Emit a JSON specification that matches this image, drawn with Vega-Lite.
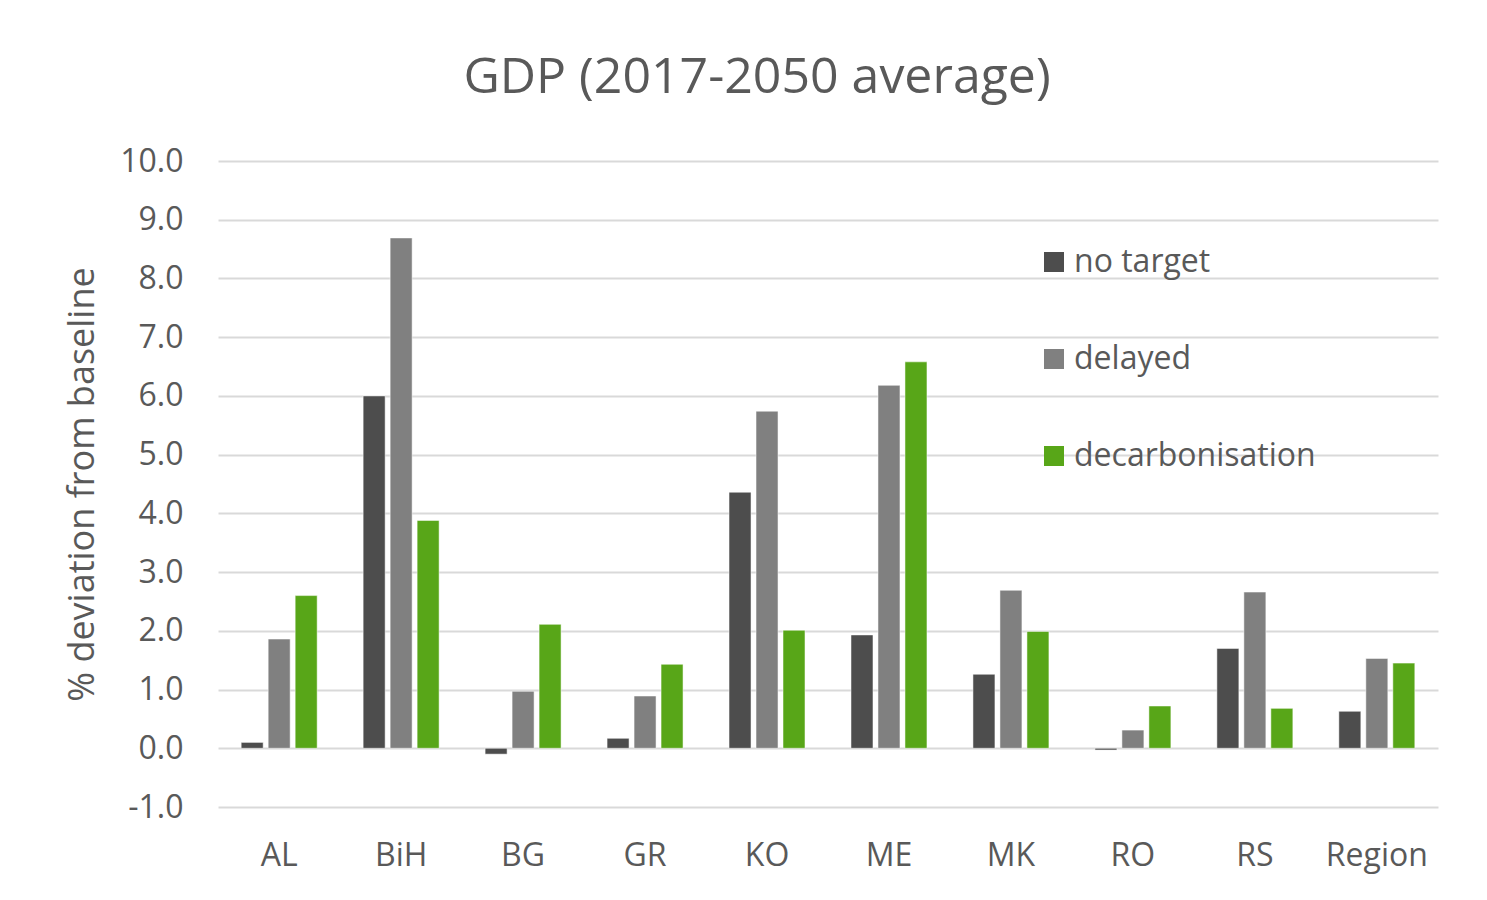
{
  "$schema": "https://vega.github.io/schema/vega-lite/v6.json",
  "width": 1220,
  "height": 646,
  "autosize": {"type": "none"},
  "padding": {"left": 218, "top": 161, "right": 49, "bottom": 93},
  "background": "white",
  "title": {
    "text": "GDP (2017-2050 average)",
    "font": "Open Sans",
    "fontSize": 50,
    "fontWeight": "normal",
    "color": "#595959",
    "anchor": "middle",
    "dx": -71,
    "offset": 42
  },
  "config": {
    "view": {"stroke": null},
    "font": "Open Sans"
  },
  "data": {
    "values": [
      {"region": "AL", "scenario": "no target", "value": 0.1},
      {"region": "AL", "scenario": "delayed", "value": 1.86},
      {"region": "AL", "scenario": "decarbonisation", "value": 2.6},
      {"region": "BiH", "scenario": "no target", "value": 6.0},
      {"region": "BiH", "scenario": "delayed", "value": 8.69},
      {"region": "BiH", "scenario": "decarbonisation", "value": 3.88},
      {"region": "BG", "scenario": "no target", "value": -0.1},
      {"region": "BG", "scenario": "delayed", "value": 0.97},
      {"region": "BG", "scenario": "decarbonisation", "value": 2.11},
      {"region": "GR", "scenario": "no target", "value": 0.17},
      {"region": "GR", "scenario": "delayed", "value": 0.89},
      {"region": "GR", "scenario": "decarbonisation", "value": 1.43},
      {"region": "KO", "scenario": "no target", "value": 4.36},
      {"region": "KO", "scenario": "delayed", "value": 5.74},
      {"region": "KO", "scenario": "decarbonisation", "value": 2.01},
      {"region": "ME", "scenario": "no target", "value": 1.93},
      {"region": "ME", "scenario": "delayed", "value": 6.18},
      {"region": "ME", "scenario": "decarbonisation", "value": 6.58},
      {"region": "MK", "scenario": "no target", "value": 1.26},
      {"region": "MK", "scenario": "delayed", "value": 2.69},
      {"region": "MK", "scenario": "decarbonisation", "value": 1.99},
      {"region": "RO", "scenario": "no target", "value": -0.03},
      {"region": "RO", "scenario": "delayed", "value": 0.31},
      {"region": "RO", "scenario": "decarbonisation", "value": 0.72},
      {"region": "RS", "scenario": "no target", "value": 1.7},
      {"region": "RS", "scenario": "delayed", "value": 2.66},
      {"region": "RS", "scenario": "decarbonisation", "value": 0.68},
      {"region": "Region", "scenario": "no target", "value": 0.63},
      {"region": "Region", "scenario": "delayed", "value": 1.53},
      {"region": "Region", "scenario": "decarbonisation", "value": 1.45}
    ]
  },
  "mark": {"type": "bar", "stroke": "white", "strokeWidth": 1, "strokeOpacity": 0.5},
  "encoding": {
    "x": {
      "field": "region",
      "type": "nominal",
      "sort": ["AL", "BiH", "BG", "GR", "KO", "ME", "MK", "RO", "RS", "Region"],
      "scale": {"paddingInner": 0.377, "paddingOuter": 0.19},
      "axis": {
        "title": null,
        "labelAngle": 0,
        "labelFont": "Open Sans",
        "labelFontSize": 32,
        "labelColor": "#595959",
        "labelPadding": 33,
        "ticks": false,
        "domain": false,
        "grid": false
      }
    },
    "xOffset": {
      "field": "scenario",
      "type": "nominal",
      "sort": ["no target", "delayed", "decarbonisation"],
      "scale": {"paddingInner": 0.185, "paddingOuter": 0}
    },
    "y": {
      "field": "value",
      "type": "quantitative",
      "scale": {"domain": [-1, 10], "nice": false, "zero": false},
      "axis": {
        "title": "% deviation from baseline",
        "titleFont": "Open Sans",
        "titleFontSize": 36,
        "titleFontWeight": "normal",
        "titleColor": "#595959",
        "titlePadding": 18,
        "values": [-1, 0, 1, 2, 3, 4, 5, 6, 7, 8, 9, 10],
        "labelExpr": "datum.value < 0 ? '-' + format(-datum.value, '.1f') : format(datum.value, '.1f')",
        "labelFont": "Open Sans",
        "labelFontSize": 32,
        "labelColor": "#595959",
        "labelPadding": 35,
        "ticks": false,
        "domain": false,
        "grid": true,
        "gridColor": "#d9d9d9",
        "gridWidth": 2
      }
    },
    "color": {
      "field": "scenario",
      "type": "nominal",
      "sort": ["no target", "delayed", "decarbonisation"],
      "scale": {
        "domain": ["no target", "delayed", "decarbonisation"],
        "range": ["#4d4d4d", "#808080", "#58a618"]
      },
      "legend": {
        "title": null,
        "orient": "none",
        "legendX": 820,
        "legendY": 85,
        "symbolType": "square",
        "symbolSize": 400,
        "symbolStrokeWidth": 0,
        "symbolOpacity": 1,
        "labelFont": "Open Sans",
        "labelFontSize": 32,
        "labelColor": "#595959",
        "labelOffset": 4,
        "rowPadding": 65,
        "labelLimit": 400
      }
    }
  }
}
